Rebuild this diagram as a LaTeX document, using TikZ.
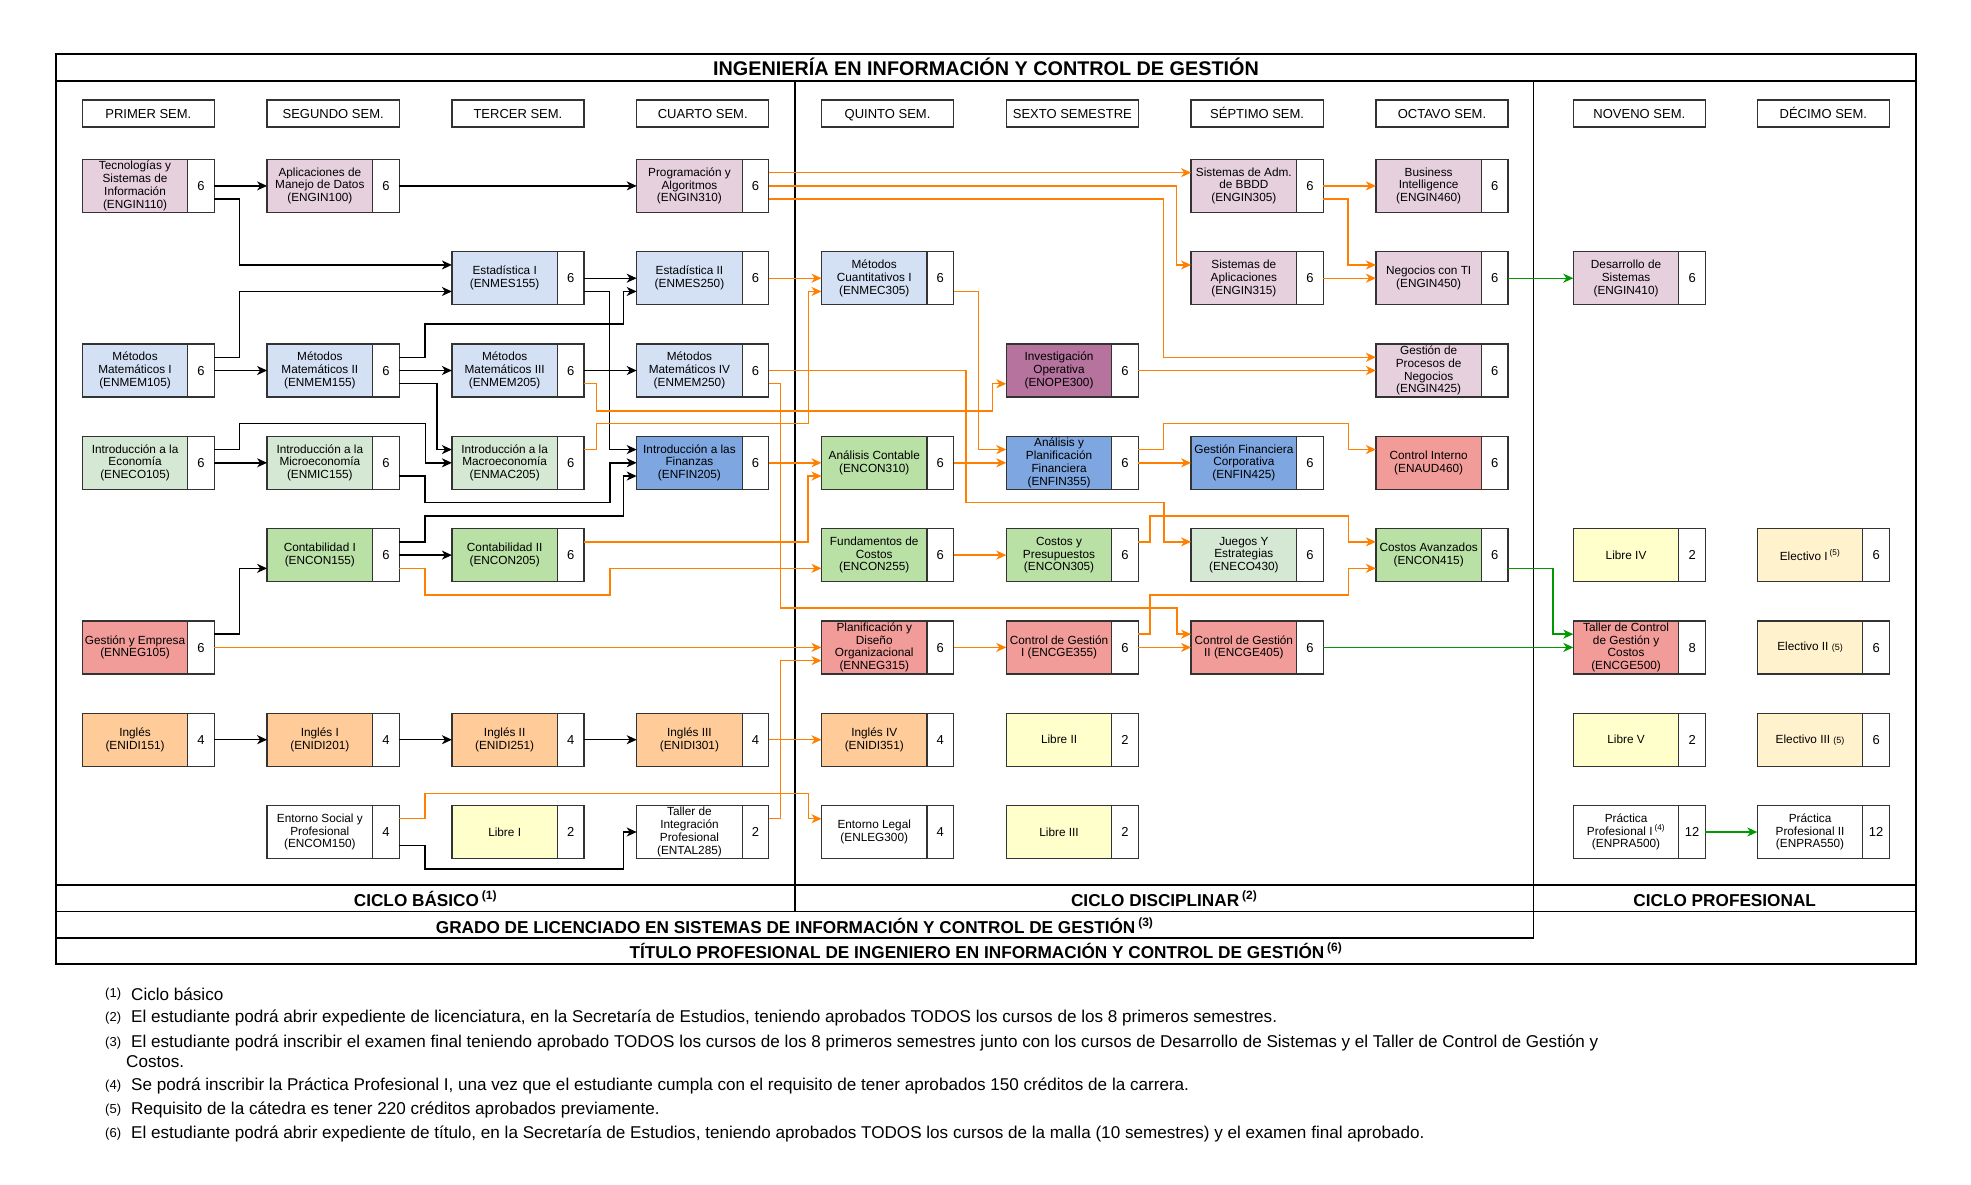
\documentclass[tikz,border=0pt]{standalone}
\usepackage{fontspec}
\setmainfont{Liberation Sans}
\usetikzlibrary{arrows.meta,calc}
\definecolor{cpink}{HTML}{E6D0DE}
\definecolor{clblue}{HTML}{D4E1F5}
\definecolor{cmblue}{HTML}{7EA6E0}
\definecolor{clgreen}{HTML}{D5E8D4}
\definecolor{cgreen}{HTML}{B9E0A5}
\definecolor{cred}{HTML}{F19C99}
\definecolor{corange}{HTML}{FFCC99}
\definecolor{cyellow}{HTML}{FFFFCC}
\definecolor{celec}{HTML}{FFF2CC}
\definecolor{cpurple}{HTML}{B5739D}
\definecolor{lorange}{HTML}{FF8000}
\definecolor{lgreen}{HTML}{009900}
\definecolor{bord}{HTML}{333333}
\def\XA{82.3}\def\XB{267.1}\def\XC{451.9}\def\XD{636.7}\def\XE{821.5}
\def\XF{1006.3}\def\XG{1191.1}\def\XH{1375.9}\def\XI{1573.3}\def\XJ{1757.3}
\def\YA{159.4}\def\YB{251.7}\def\YC{344.0}\def\YD{436.3}\def\YE{528.6}
\def\YF{620.9}\def\YG{713.2}\def\YH{805.5}
\newcommand\crs[6]{%
 \node[labbox,fill=#4,anchor=north west] (#1) at (#2,#3) {};
 \node[numbox,anchor=north west] (#1n) at (#1.north east) {#6};
 \node[labtxt] (#1t) at (#1.center) {#5};
 \coordinate (#1L1) at ($(#1.north west)!.25!(#1.south west)$);
 \coordinate (#1L3) at ($(#1.north west)!.75!(#1.south west)$);
 \coordinate (#1R1) at ($(#1n.north east)!.25!(#1n.south east)$);
 \coordinate (#1R3) at ($(#1n.north east)!.75!(#1n.south east)$);
}
\tikzset{
 labbox/.style={draw=bord, line width=1.3pt, minimum width=105.5pt, minimum height=53pt, inner sep=0pt, outer sep=0pt},
 numbox/.style={draw=bord, fill=white, line width=1.3pt, minimum width=26.6pt, minimum height=53pt, inner sep=0pt, outer sep=0pt, text height=9.4pt, text depth=0pt, font=\fontsize{13}{13}\selectfont},
 labtxt/.style={align=center, inner sep=0pt, font=\fontsize{11.8}{12.8}\selectfont},
 hdr/.style={draw=bord, line width=1.3pt, minimum width=132.1pt, minimum height=27pt, inner sep=0pt, outer sep=0pt, anchor=north west, text height=9.3pt, text depth=0pt, font=\fontsize{13}{13}\selectfont},
 band/.style={anchor=base, inner sep=0pt, font=\fontsize{17.2}{17.5}\selectfont\bfseries},
 frame/.style={draw=black, line width=1.4pt},
 conn/.style={line width=1.4pt, -{Stealth[length=10pt,width=9pt,inset=3pt]}},
 blk/.style={conn, draw=black},
 org/.style={conn, draw=lorange},
 grn/.style={conn, draw=lgreen},
 fnum/.style={anchor=west, inner sep=0pt, font=\fontsize{13}{13}\selectfont},
 ftxt/.style={anchor=west, inner sep=0pt, font=\fontsize{17.1}{17.1}\selectfont},
}
\begin{document}
\begin{tikzpicture}[x=1pt,y=-1pt]
\useasboundingbox[fill=white] (0,0) rectangle (1971,1184);
% frame
\draw[frame] (56,54) rectangle (1916,964);
\draw[frame] (56,81) -- (1916,81);
\draw[frame] (795,81) -- (795,911.7);
\draw[frame] (1533.5,81) -- (1533.5,938);
\draw[frame] (56,885) -- (1916,885);
\draw[frame] (56,911.7) -- (1916,911.7);
\draw[frame] (56,938) -- (1533.5,938);
\node[anchor=base, inner sep=0pt, font=\fontsize{19.8}{20}\selectfont\bfseries] (title) at (986,75) {INGENIERÍA EN INFORMACIÓN Y CONTROL DE GESTIÓN};
\node[band] (bb) at (425.5,906) {CICLO BÁSICO\,\textsuperscript{(1)}};
\node[band] (bd) at (1164.2,906) {CICLO DISCIPLINAR\,\textsuperscript{(2)}};
\node[band] (bp) at (1724.7,906) {CICLO PROFESIONAL};
\node[band] (bg) at (794.7,933) {GRADO DE LICENCIADO EN SISTEMAS DE INFORMACIÓN Y CONTROL DE GESTIÓN\,\textsuperscript{(3)}};
\node[band] (bt) at (986,958) {TÍTULO PROFESIONAL DE INGENIERO EN INFORMACIÓN Y CONTROL DE GESTIÓN\,\textsuperscript{(6)}};
% headers
\node[hdr] (h1) at (\XA,100) {PRIMER SEM.};
\node[hdr] (h2) at (\XB,100) {SEGUNDO SEM.};
\node[hdr] (h3) at (\XC,100) {TERCER SEM.};
\node[hdr] (h4) at (\XD,100) {CUARTO SEM.};
\node[hdr] (h5) at (\XE,100) {QUINTO SEM.};
\node[hdr] (h6) at (\XF,100) {SEXTO SEMESTRE};
\node[hdr] (h7) at (\XG,100) {SÉPTIMO SEM.};
\node[hdr] (h8) at (\XH,100) {OCTAVO SEM.};
\node[hdr] (h9) at (\XI,100) {NOVENO SEM.};
\node[hdr] (h10) at (\XJ,100) {DÉCIMO SEM.};
% column 1
\crs{tec}{\XA}{\YA}{cpink}{Tecnologías y\\Sistemas de\\Información\\(ENGIN110)}{6}
\crs{mm1}{\XA}{\YC}{clblue}{Métodos\\Matemáticos I\\(ENMEM105)}{6}
\crs{eco}{\XA}{\YD}{clgreen}{Introducción a la\\Economía\\(ENECO105)}{6}
\crs{gem}{\XA}{\YF}{cred}{Gestión y Empresa\\(ENNEG105)}{6}
\crs{ing}{\XA}{\YG}{corange}{Inglés\\(ENIDI151)}{4}
% column 2
\crs{apl}{\XB}{\YA}{cpink}{Aplicaciones de\\Manejo de Datos\\(ENGIN100)}{6}
\crs{mm2}{\XB}{\YC}{clblue}{Métodos\\Matemáticos II\\(ENMEM155)}{6}
\crs{mic}{\XB}{\YD}{clgreen}{Introducción a la\\Microeconomía\\(ENMIC155)}{6}
\crs{con1}{\XB}{\YE}{cgreen}{Contabilidad I\\(ENCON155)}{6}
\crs{ing1}{\XB}{\YG}{corange}{Inglés I\\(ENIDI201)}{4}
\crs{ens}{\XB}{\YH}{white}{Entorno Social y\\Profesional\\(ENCOM150)}{4}
% column 3
\crs{est1}{\XC}{\YB}{clblue}{Estadística I\\(ENMES155)}{6}
\crs{mm3}{\XC}{\YC}{clblue}{Métodos\\Matemáticos III\\(ENMEM205)}{6}
\crs{mac}{\XC}{\YD}{clgreen}{Introducción a la\\Macroeconomía\\(ENMAC205)}{6}
\crs{con2}{\XC}{\YE}{cgreen}{Contabilidad II\\(ENCON205)}{6}
\crs{ing2}{\XC}{\YG}{corange}{Inglés II\\(ENIDI251)}{4}
\crs{lib1}{\XC}{\YH}{cyellow}{Libre I}{2}
% column 4
\crs{prog}{\XD}{\YA}{cpink}{Programación y\\Algoritmos\\(ENGIN310)}{6}
\crs{est2}{\XD}{\YB}{clblue}{Estadística II\\(ENMES250)}{6}
\crs{mm4}{\XD}{\YC}{clblue}{Métodos\\Matemáticos IV\\(ENMEM250)}{6}
\crs{fin}{\XD}{\YD}{cmblue}{Introducción a las\\Finanzas\\(ENFIN205)}{6}
\crs{ing3}{\XD}{\YG}{corange}{Inglés III\\(ENIDI301)}{4}
\crs{tip}{\XD}{\YH}{white}{Taller de\\Integración\\Profesional\\(ENTAL285)}{2}
% column 5
\crs{mc1}{\XE}{\YB}{clblue}{Métodos\\Cuantitativos I\\(ENMEC305)}{6}
\crs{aco}{\XE}{\YD}{cgreen}{Análisis Contable\\(ENCON310)}{6}
\crs{fun}{\XE}{\YE}{cgreen}{Fundamentos de\\Costos\\(ENCON255)}{6}
\crs{pla}{\XE}{\YF}{cred}{Planificación y\\Diseño\\Organizacional\\(ENNEG315)}{6}
\crs{ing4}{\XE}{\YG}{corange}{Inglés IV\\(ENIDI351)}{4}
\crs{leg}{\XE}{\YH}{white}{Entorno Legal\\(ENLEG300)}{4}
% column 6
\crs{io}{\XF}{\YC}{cpurple}{Investigación\\Operativa\\(ENOPE300)}{6}
\crs{apf}{\XF}{\YD}{cmblue}{Análisis y\\Planificación\\Financiera\\(ENFIN355)}{6}
\crs{cyp}{\XF}{\YE}{cgreen}{Costos y\\Presupuestos\\(ENCON305)}{6}
\crs{cg1}{\XF}{\YF}{cred}{Control de Gestión\\I (ENCGE355)}{6}
\crs{lib2}{\XF}{\YG}{cyellow}{Libre II}{2}
\crs{lib3}{\XF}{\YH}{cyellow}{Libre III}{2}
% column 7
\crs{sab}{\XG}{\YA}{cpink}{Sistemas de Adm.\\de BBDD\\(ENGIN305)}{6}
\crs{sap}{\XG}{\YB}{cpink}{Sistemas de\\Aplicaciones\\(ENGIN315)}{6}
\crs{gfc}{\XG}{\YD}{cmblue}{Gestión Financiera\\Corporativa\\(ENFIN425)}{6}
\crs{jue}{\XG}{\YE}{clgreen}{Juegos Y\\Estrategias\\(ENECO430)}{6}
\crs{cg2}{\XG}{\YF}{cred}{Control de Gestión\\II (ENCGE405)}{6}
% column 8
\crs{bi}{\XH}{\YA}{cpink}{Business\\Intelligence\\(ENGIN460)}{6}
\crs{nti}{\XH}{\YB}{cpink}{Negocios con TI\\(ENGIN450)}{6}
\crs{gdp}{\XH}{\YC}{cpink}{Gestión de\\Procesos de\\Negocios\\(ENGIN425)}{6}
\crs{ci}{\XH}{\YD}{cred}{Control Interno\\(ENAUD460)}{6}
\crs{cav}{\XH}{\YE}{cgreen}{Costos Avanzados\\(ENCON415)}{6}
% column 9
\crs{des}{\XI}{\YB}{cpink}{Desarrollo de\\Sistemas\\(ENGIN410)}{6}
\crs{lib4}{\XI}{\YE}{cyellow}{Libre IV}{2}
\crs{tcg}{\XI}{\YF}{cred}{Taller de Control\\de Gestión y\\Costos\\(ENCGE500)}{8}
\crs{lib5}{\XI}{\YG}{cyellow}{Libre V}{2}
\crs{pr1}{\XI}{\YH}{white}{Práctica\\Profesional I\,\textsuperscript{(4)}\\(ENPRA500)}{12}
% column 10
\crs{el1}{\XJ}{\YE}{celec}{Electivo I\,\textsuperscript{(5)}}{6}
\crs{el2}{\XJ}{\YF}{celec}{Electivo II {\fontsize{9}{9}\selectfont(5)}}{6}
\crs{el3}{\XJ}{\YG}{celec}{Electivo III {\fontsize{9}{9}\selectfont(5)}}{6}
\crs{pr2}{\XJ}{\YH}{white}{Práctica\\Profesional II\\(ENPRA550)}{12}
% black connectors
\draw[blk] (tecn.east) -- (apl.west);
\draw[blk] (tecR3) -- ++(25.1,0) |- (est1L1);
\draw[blk] (apln.east) -- (prog.west);
\draw[blk] (mm1R1) -- ++(25.1,0) |- (est1L3);
\draw[blk] (mm1n.east) -- (mm2.west);
\draw[blk] (mm2R1) -- ++(25.8,0) |- (623.3,324) |- (est2L3);
\draw[blk] (est1n.east) -- (est2.west);
\draw[blk] (est1R3) -- ++(25.5,0) |- (finL1);
\draw[blk] (mm2n.east) -- (mm3.west);
\draw[blk] (mm2R3) -- ++(37.8,0) |- (macL1);
\draw[blk] (mm3n.east) -- (mm4.west);
\draw[blk] (ecoR1) -- ++(25.1,0) |- (425.5,423.3) |- (mac.west);
\draw[blk] (econ.east) -- (mic.west);
\draw[blk] (micR3) -- ++(25.8,0) |- (610,502.7) |- (fin.west);
\draw[blk] (con1R1) -- ++(25.8,0) |- (623.3,516) |- (finL3);
\draw[blk] (con1n.east) -- (con2.west);
\draw[blk] (gemR1) -- ++(25.1,0) |- (con1L3);
\draw[blk] (ingn.east) -- (ing1.west);
\draw[blk] (ing1n.east) -- (ing2.west);
\draw[blk] (ing2n.east) -- (ing3.west);
\draw[blk] (ensR3) -- ++(25.8,0) |- (623.3,869) |- (tip.west);
% orange connectors
\draw[org] (ensR1) -- ++(25.8,0) |- (808.3,793.5) |- (legL1);
\draw[org] (tipR1) -- ++(11.7,0) |- (plaL3);
\draw[org] (mm4R3) -- ++(11.7,0) |- (1177,608) |- (cg2L1);
\draw[org] (mm4n.east) -- ++(197.2,0) |- (1164,502.3) |- (jueL1);
\draw[org] (mc1R3) -- ++(24.9,0) |- (apfL1);
\draw[org] (est2n.east) -- (mc1.west);
\draw[org] (macR1) -- ++(12.2,0) |- (808.3,423.3) |- (mc1L3);
\draw[org] (mm3R3) -- ++(12.2,0) |- (992.3,411) |- (ioL3);
\draw[org] (finn.east) -- (aco.west);
\draw[org] (con2R1) -- ++(223.8,0) |- (acoL3);
\draw[org] (con1R3) -- ++(25.8,0) |- (610,595) |- (funL3);
\draw[org] (gemn.east) -- (pla.west);
\draw[org] (ing3n.east) -- (ing4.west);
\draw[org] (progR1) -- (sabL1);
\draw[org] (progn.east) -- ++(407.7,0) |- (sapL1);
\draw[org] (progR3) -- ++(394.7,0) |- (gdpL1);
\draw[org] (sabn.east) -- (bi.west);
\draw[org] (sabR3) -- ++(24.9,0) |- (ntiL1);
\draw[org] (sapn.east) -- (nti.west);
\draw[org] (ion.east) -- (gdp.west);
\draw[org] (apfR1) -- ++(25.1,0) |- (1348.6,423.3) |- (ciL1);
\draw[org] (apfn.east) -- (gfc.west);
\draw[org] (acon.east) -- (apf.west);
\draw[org] (funn.east) -- (cyp.west);
\draw[org] (cypR1) -- ++(11.6,0) |- (1348.6,516) |- (cavL1);
\draw[org] (plan.east) -- (cg1.west);
\draw[org] (cg1R1) -- ++(11.6,0) |- (1348.6,595) |- (cavL3);
\draw[org] (cg1n.east) -- (cg2.west);
% green connectors
\draw[grn] (ntin.east) -- (des.west);
\draw[grn] (cavR3) -- ++(44.8,0) |- (tcgL1);
\draw[grn] (cg2n.east) -- (tcg.west);
\draw[grn] (pr1n.east) -- (pr2.west);
% footnotes
\node[fnum] (f1n) at (105,994) {(1)};
\node[ftxt] (f1) at (131,994) {Ciclo básico};
\node[fnum] (f2n) at (105,1018) {(2)};
\node[ftxt] (f2) at (131,1018) {El estudiante podrá abrir expediente de licenciatura, en la Secretaría de Estudios, teniendo aprobados TODOS los cursos de los 8 primeros semestres.};
\node[fnum] (f3n) at (105,1043) {(3)};
\node[ftxt] (f3) at (131,1043) {El estudiante podrá inscribir el examen final teniendo aprobado TODOS los cursos de los 8 primeros semestres junto con los cursos de Desarrollo de Sistemas y el Taller de Control de Gestión y};
\node[ftxt] (f3b) at (126,1062) {Costos.};
\node[fnum] (f4n) at (105,1086) {(4)};
\node[ftxt] (f4) at (131,1086) {Se podrá inscribir la Práctica Profesional I, una vez que el estudiante cumpla con el requisito de tener aprobados 150 créditos de la carrera.};
\node[fnum] (f5n) at (105,1110) {(5)};
\node[ftxt] (f5) at (131,1110) {Requisito de la cátedra es tener 220 créditos aprobados previamente.};
\node[fnum] (f6n) at (105,1134) {(6)};
\node[ftxt] (f6) at (131,1134) {El estudiante podrá abrir expediente de título, en la Secretaría de Estudios, teniendo aprobados TODOS los cursos de la malla (10 semestres) y el examen final aprobado.};
\end{tikzpicture}
\end{document}
